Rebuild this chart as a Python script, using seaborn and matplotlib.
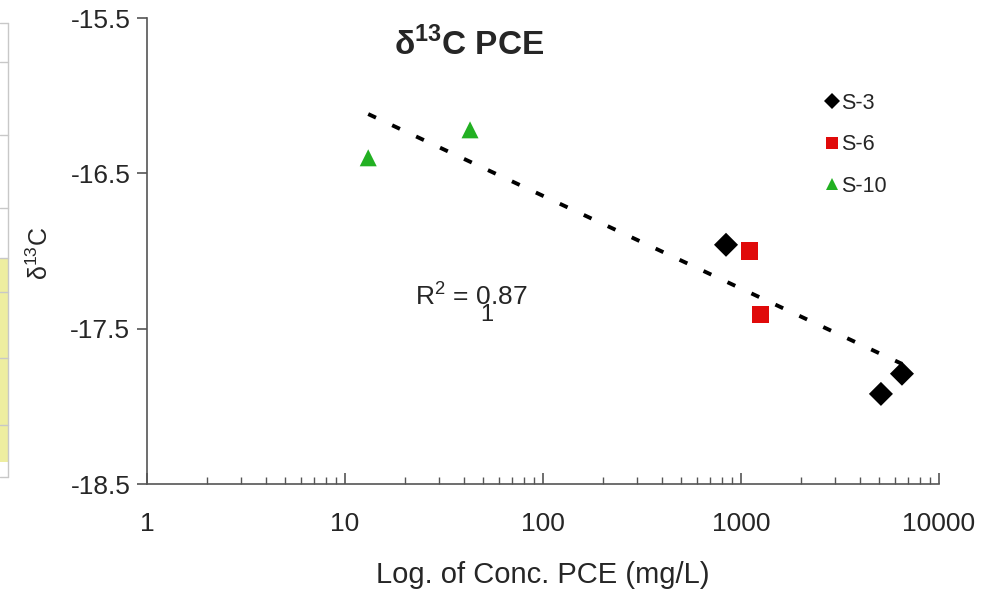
import numpy as np
import pandas as pd
import matplotlib
matplotlib.use("Agg")
import matplotlib.pyplot as plt
from matplotlib.patches import Rectangle
from matplotlib.lines import Line2D
from matplotlib.ticker import LogLocator, FixedLocator, NullFormatter, FuncFormatter
import seaborn as sns

# Sample wells and measurements
wells = ["S-3", "S-3", "S-3", "S-6", "S-6", "S-10", "S-10"]
conc_pce = [840, 5090, 6500, 1110, 1260, 13.1, 42.8]          # mg/L
delta13c = [-16.96, -17.92, -17.79, -17.00, -17.41, -16.40, -16.22]
well_order = ["S-3", "S-6", "S-10"]
well_colors = {"S-3": "#000000", "S-6": "#e00a0a", "S-10": "#22b022"}
well_markers = {"S-3": "D", "S-6": "s", "S-10": "^"}
y_ticks = [-15.5, -16.5, -17.5, -18.5]
x_ticks = [1, 10, 100, 1000, 10000]

df = pd.DataFrame({"well": wells, "conc": conc_pce, "d13c": delta13c})

sns.set_style("ticks")
plt.rcParams["font.family"] = ["Liberation Sans", "DejaVu Sans"]
plt.rcParams["mathtext.fontset"] = "custom"
plt.rcParams["mathtext.rm"] = "Liberation Sans"
plt.rcParams["mathtext.bf"] = "Liberation Sans:bold"

W, H = 987, 590
fig = plt.figure(figsize=(W / 100, H / 100), dpi=100)
ax = fig.add_axes([147 / W, 1 - 484 / H, (939 - 147) / W, (484 - 18) / H])

# Log-linear trend line through all points
sns.regplot(data=df, x="conc", y="d13c", logx=True, ci=None, scatter=False, ax=ax,
            line_kws=dict(color="black", lw=2.8, ls=(0, (2.2, 4.6)), dash_capstyle="butt"))

# Well measurements
sns.scatterplot(data=df, x="conc", y="d13c", hue="well", style="well",
                hue_order=well_order, style_order=well_order,
                palette=well_colors, markers=well_markers,
                s=150, linewidth=0, ax=ax, zorder=3)

ax.set_xscale("log")
ax.set_xlim(1, 10000)
ax.set_ylim(-18.5, -15.5)
ax.yaxis.set_major_locator(FixedLocator(y_ticks))
ax.yaxis.set_major_formatter(FuncFormatter(lambda v, p: f"{v:.1f}"))
ax.xaxis.set_major_locator(FixedLocator(x_ticks))
ax.xaxis.set_major_formatter(FuncFormatter(lambda v, p: f"{v:.0f}"))
ax.xaxis.set_minor_locator(LogLocator(base=10, subs=np.arange(2, 10)))
ax.xaxis.set_minor_formatter(NullFormatter())

for side in ["top", "right"]:
    ax.spines[side].set_visible(False)
for side in ["left", "bottom"]:
    ax.spines[side].set_color("#555555")
    ax.spines[side].set_linewidth(1.2)

ax.tick_params(axis="y", which="major", direction="out", length=7, width=1.2,
               color="#555555", labelsize=19, pad=5)
ax.tick_params(axis="x", which="major", direction="in", length=8, width=1.2,
               color="#555555", labelsize=19, pad=20)
ax.tick_params(axis="x", which="minor", direction="in", length=5, width=1.0,
               color="#555555")

ax.set_xlabel("Log. of Conc. PCE (mg/L)", fontsize=21, labelpad=18)
ax.set_ylabel("")

# Legend
handles, labels = ax.get_legend_handles_labels()
ax.legend(handles=handles, labels=labels, loc="upper left",
          bbox_to_anchor=(810 / W, 1 - 93 / H), bbox_transform=fig.transFigure,
          frameon=False, fontsize=15.5, handletextpad=-0.55, labelspacing=0.95,
          markerscale=0.68, borderaxespad=0, borderpad=0)

# Titles and annotations
fig.text(469 / W, 1 - 44 / H, "δ$^{\\mathbf{13}}$C PCE", fontsize=24,
         fontweight="bold", ha="center", va="center")
fig.text(40 / W, 1 - 253 / H, "δ$^{13}$C", fontsize=18, rotation=90,
         ha="center", va="center")
fig.text(415 / W, 1 - 305 / H, "R$^2$ = 0.87", fontsize=19, ha="left", va="baseline")
fig.text(487 / W, 1 - 315 / H, "1", fontsize=17, ha="center", va="center")

# Neighbouring panel edge on the left
fig.add_artist(Rectangle((0, 1 - 462 / H), 8 / W, (462 - 258) / H,
                         transform=fig.transFigure, facecolor="#eeeea0",
                         edgecolor="none", zorder=0))
fig.add_artist(Line2D([8 / W, 8 / W], [1 - 23 / H, 1 - 477 / H],
                      transform=fig.transFigure, color="#c8c8c8", lw=1))
for yy in [23, 62, 135, 208, 258, 292, 358, 425, 477]:
    fig.add_artist(Line2D([0, 8 / W], [1 - yy / H, 1 - yy / H],
                          transform=fig.transFigure, color="#c8c8c8", lw=1))

fig.savefig("out.png", dpi=100)
